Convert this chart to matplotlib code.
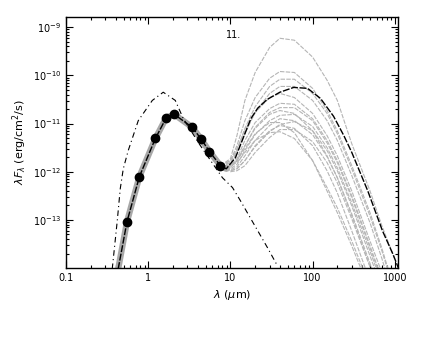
import numpy as np
import matplotlib
matplotlib.use('Agg')
import matplotlib.pyplot as plt
from matplotlib.ticker import LogLocator, NullFormatter

# photometry points (black dots)
wl_obs = [0.55, 0.78, 1.22, 1.66, 2.07, 3.44, 4.43, 5.55, 7.55]
flux_obs = [9.1e-14, 7.9e-13, 4.9e-12, 1.33e-11, 1.55e-11, 8.3e-12, 4.7e-12, 2.6e-12, 1.33e-12]

# best model (black dashed), log10 of lambda F_lambda
wl_best = [0.43, 0.55, 0.78, 1.22, 1.66, 2.07, 3.44, 4.43, 5.55, 7.55, 8.9, 11.5, 14.3, 17.7,
           21.5, 28, 40, 59, 87, 125, 180, 240, 300, 470, 710, 950, 1120]
logf_best = [-14.02, -13.04, -12.10, -11.31, -10.875, -10.81, -11.08, -11.33, -11.58, -11.875,
             -11.94, -11.71, -11.30, -10.90, -10.68, -10.50, -10.35, -10.25, -10.27, -10.48,
             -10.85, -11.25, -11.60, -12.40, -13.23, -13.71, -14.02]

# stellar photosphere (dash-dot)
wl_star = [0.364, 0.419, 0.456, 0.496, 0.57, 0.755, 1.12, 1.52, 2.13, 2.67, 4.31, 7.99, 10.6,
           13.2, 28.3, 37.5]
logf_star = [-14.02, -13.02, -12.35, -11.94, -11.56, -10.94, -10.52, -10.35, -10.52, -10.90,
             -11.46, -12.125, -12.33, -12.60, -13.58, -13.96]

# other fitted models (grey), far-IR part on a common grid
wl_grey = [7.55, 10, 12, 15, 20, 30, 40, 60, 100, 150, 200, 300, 500, 700, 1000]
logf_A = [-11.875, -11.73, -11.25, -10.52, -9.94, -9.42, -9.23, -9.27, -9.62, -10.10, -10.52, -11.42, -12.40, -13.13, -13.81]
logf_B1 = [-11.875, -11.77, -11.46, -10.94, -10.46, -10.06, -9.92, -9.94, -10.27, -10.73, -11.15, -11.875, -12.85, -13.60, -14.48]
logf_B2 = [-11.875, -11.81, -11.56, -11.10, -10.65, -10.23, -10.08, -10.08, -10.375, -10.79, -11.21, -11.94, -12.92, -13.65, -14.52]
logf_B3 = [-11.875, -11.83, -11.60, -11.21, -10.77, -10.375, -10.23, -10.23, -10.52, -10.94, -11.35, -12.08, -13.06, -13.81, -14.69]
logf_B4 = [-11.875, -11.77, -11.52, -11.15, -10.77, -10.46, -10.375, -10.46, -10.79, -11.25, -11.67, -12.40, -13.44, -14.10, -14.90]
logf_C1 = [-11.875, -11.875, -11.73, -11.35, -10.98, -10.69, -10.58, -10.60, -10.90, -11.35, -11.77, -12.50, -13.54, -14.23, -15.0]
logf_C2 = [-11.875, -11.90, -11.77, -11.46, -11.08, -10.77, -10.67, -10.67, -10.94, -11.40, -11.81, -12.54, -13.58, -14.27, -15.06]
logf_C3 = [-11.875, -11.92, -11.77, -11.46, -11.10, -10.81, -10.73, -10.79, -11.15, -11.67, -12.125, -12.92, -13.96, -14.58, -15.31]
logf_C4 = [-11.875, -11.94, -11.85, -11.56, -11.23, -10.94, -10.83, -10.81, -11.06, -11.50, -11.92, -12.65, -13.65, -14.33, -15.10]
logf_C5 = [-11.875, -11.96, -11.90, -11.67, -11.35, -11.04, -10.90, -10.94, -11.23, -11.69, -12.125, -12.875, -13.90, -14.58, -15.35]
logf_C6 = [-11.875, -11.98, -11.94, -11.77, -11.48, -11.17, -11.02, -10.96, -11.15, -11.56, -11.98, -12.71, -13.75, -14.42, -15.21]
logf_C7 = [-11.875, -11.98, -11.94, -11.77, -11.46, -11.15, -11.04, -11.10, -11.46, -11.98, -12.44, -13.23, -14.27, -14.90, -15.62]
logf_C8 = [-11.875, -12.0, -11.98, -11.875, -11.60, -11.29, -11.125, -11.125, -11.375, -11.81, -12.23, -12.98, -13.98, -14.65, -15.42]
logf_D1 = [-11.875, -11.875, -11.77, -11.52, -11.21, -10.98, -10.98, -11.19, -11.77, -12.40, -12.85, -13.54, -14.48, -15.1, -15.83]
logf_D2 = [-11.875, -11.875, -11.81, -11.60, -11.35, -11.19, -11.17, -11.31, -11.77, -12.33, -12.75, -13.44, -14.38, -15.0, -15.73]

grey_models = [logf_A, logf_B1, logf_B2, logf_B3, logf_B4, logf_C1, logf_C2, logf_C3, logf_C4,
               logf_C5, logf_C6, logf_C7, logf_C8, logf_D1, logf_D2]

fig = plt.figure(figsize=(4.24, 3.49), dpi=100)
ax = fig.add_axes([0.156, 0.232, 0.783, 0.719])

grey = '#b5b5b5'
# grey band of models in the near-IR
ax.plot(wl_best[:11], 10**np.array(logf_best[:11]), color='#a8a8a8', lw=4.5, solid_capstyle='round')
for lf in grey_models:
    ax.plot(wl_grey, 10**np.array(lf), color=grey, lw=0.8, ls=(0, (4, 1.2)))

ax.plot(wl_star, 10**np.array(logf_star), color='black', lw=0.8, ls=(0, (5, 3, 1, 3)))
ax.plot(wl_best, 10**np.array(logf_best), color='black', lw=1.0, ls=(0, (5, 1.2)))
ax.plot(wl_obs, flux_obs, 'o', color='black', ms=6)

ax.set_xscale('log')
ax.set_yscale('log')
ax.set_xlim(0.1, 1100)
ax.set_ylim(1e-14, 1.62e-9)

ax.set_xticks([0.1, 1, 10, 100, 1000])
ax.set_xticklabels(['0.1', '1', '10', '100', '1000'])
ax.set_yticks([1e-13, 1e-12, 1e-11, 1e-10, 1e-9])
ax.set_yticklabels([r'$10^{-13}$', r'$10^{-12}$', r'$10^{-11}$', r'$10^{-10}$', r'$10^{-9}$'])
ax.xaxis.set_minor_locator(LogLocator(base=10, subs=np.arange(2, 10), numticks=20))
ax.yaxis.set_minor_locator(LogLocator(base=10, subs=np.arange(2, 10), numticks=20))
ax.xaxis.set_minor_formatter(NullFormatter())
ax.yaxis.set_minor_formatter(NullFormatter())
ax.tick_params(which='both', direction='in', top=True, right=True, labelsize=7, width=0.8)
ax.tick_params(which='major', length=5)
ax.tick_params(which='minor', length=2.5)
for s in ax.spines.values():
    s.set_linewidth(1.0)

ax.set_xlabel(r'$\lambda$ ($\mu$m)', fontsize=8, labelpad=4)
ax.set_ylabel(r'$\lambda F_\lambda$ (erg/cm$^2$/s)', fontsize=8, labelpad=3)
ax.text(10.9, 6.8e-10, '11.', fontsize=7, ha='center', va='center')

fig.savefig('out.png', dpi=100)
